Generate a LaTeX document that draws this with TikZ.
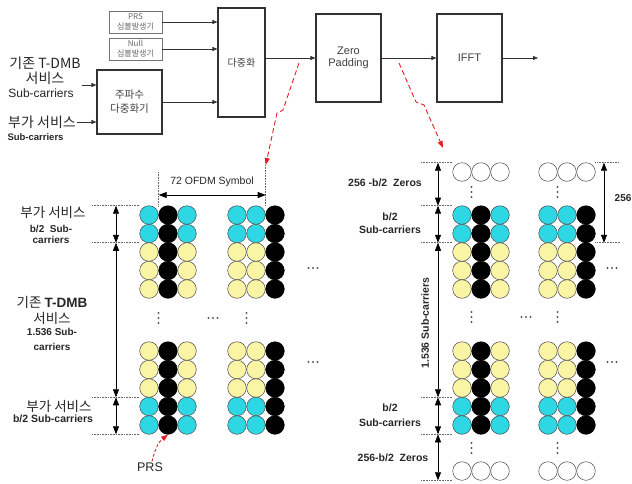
\documentclass[tikz,border=0pt]{standalone}
\usepackage{fontspec}
\setmainfont{Liberation Sans}
\newfontfamily\kr{Noto Sans CJK KR}
\usetikzlibrary{arrows.meta, positioning, calc}
\definecolor{clrCy}{RGB}{45,215,228}
\definecolor{clrYl}{RGB}{250,244,165}
\definecolor{clrRd}{RGB}{228,30,36}
\definecolor{clrLn}{RGB}{50,50,50}
\tikzset{
  blk/.style={rectangle, draw=clrLn, line width=1.1pt, fill=white, text=black!75,
    align=center, inner sep=1pt},
  gen/.style={rectangle, draw=black!55, line width=0.6pt, text=black!60,
    font=\fontsize{8}{10}\selectfont\kr, align=center, minimum width=53pt,
    minimum height=22pt, inner sep=0pt},
  arr/.style={-{Triangle[length=5pt,width=4pt]}, line width=0.8pt, color=clrLn},
  dimarr/.style={{Triangle[length=8pt,width=6pt]}-{Triangle[length=8pt,width=6pt]},
    line width=0.6pt, color=black},
  guide/.style={densely dotted, line width=0.6pt, color=black!60},
  redarr/.style={-{Triangle[length=7pt,width=5pt]}, dash pattern=on 5pt off 3pt,
    line width=0.9pt, color=clrRd},
  sc/.style={circle, draw=black!70, line width=0.5pt, minimum size=18.6pt, inner sep=0pt},
  krlbl/.style={font=\fontsize{14}{15}\selectfont\kr, text=black!85, inner sep=1pt, align=center},
  bfl/.style={font=\fontsize{10.5}{12}\selectfont\bfseries, text=black!85, inner sep=1pt,
    align=center},
  dotc/.style={fill=black!65},
}
\begin{document}
\begin{tikzpicture}[x=1pt, y=-1pt]
\useasboundingbox (0,0) rectangle (632,483);
% transmitter chain
\node[gen] (prsgen) at (135.5,22) {PRS\\심볼발생기};
\node[gen] (nullgen) at (135.5,49) {Null\\심볼발생기};
\node[blk, minimum width=65pt, minimum height=64pt, font=\fontsize{10.5}{14}\selectfont\kr] (freqmux) at (129.5,102) {주파수\\다중화기};
\node[blk, minimum width=47pt, minimum height=109pt, font=\fontsize{10}{12}\selectfont\kr] (mux) at (241.5,62.5) {다중화};
\node[blk, minimum width=65pt, minimum height=88pt, font=\fontsize{11}{12}\selectfont] (zeropad) at (348.5,58) {Zero\\Padding};
\node[blk, minimum width=65pt, minimum height=88pt, font=\fontsize{11}{12}\selectfont] (ifft) at (469.5,58) {IFFT};
\coordinate (out) at (538,58);
\draw[arr] (prsgen.east) -- (prsgen.east -| mux.west);
\draw[arr] (nullgen.east) -- (nullgen.east -| mux.west);
\draw[arr] (freqmux.east) -- (freqmux.east -| mux.west);
\draw[arr] (mux.east |- zeropad.west) -- (zeropad.west);
\draw[arr] (zeropad.east) -- (ifft.west);
\draw[arr] (ifft.east) -- (out);
% inputs
\node[krlbl] (tdmbin) at (45,70.5) {기존 T-DMB\\서비스};
\node[font=\fontsize{12}{14}\selectfont, text=black!85, inner sep=1pt] (tdmbsc) at (41,93) {Sub-carriers};
\coordinate (in1) at ([yshift=17pt]freqmux.west);
\draw[arr] (tdmbin.east |- in1) -- (in1);
\node[krlbl] (addin) at (42,122) {부가 서비스};
\draw[arr] (addin.east) -- (addin.east -| freqmux.west);
\node[bfl, font=\fontsize{9.5}{11}\selectfont\bfseries] (addinsc) at (35.5,137) {Sub-carriers};
% callouts
\coordinate (rs1) at (299,63); \coordinate (rt1) at (265.7,165);
\coordinate (rs2) at (399,63); \coordinate (rt2) at (443,148);
\draw[redarr] (rs1) -- (283,110) -- (277,113) -- (rt1);
\draw[redarr] (rs2) -- (416,102) -- (424,105) -- (rt2);
% sub-carrier grids
\foreach \gx in {149,462}{
  \foreach \ry/\fc [count=\r] in {215/clrCy, 233.5/clrCy, 252/clrYl, 270.5/clrYl, 289/clrYl,
      351/clrYl, 369.5/clrYl, 388/clrYl, 406.5/clrCy, 425/clrCy}{
    \node[sc, fill=\fc] (c\gx-\r-1) at (\gx,\ry) {};
    \node[sc, fill=black, draw=black] (c\gx-\r-2) at (\gx+19,\ry) {};
    \node[sc, fill=\fc] (c\gx-\r-3) at (\gx+38,\ry) {};
  }
}
\foreach \gx in {237,548}{
  \foreach \ry/\fc [count=\r] in {215/clrCy, 233.5/clrCy, 252/clrYl, 270.5/clrYl, 289/clrYl,
      351/clrYl, 369.5/clrYl, 388/clrYl, 406.5/clrCy, 425/clrCy}{
    \node[sc, fill=\fc] (c\gx-\r-1) at (\gx,\ry) {};
    \node[sc, fill=\fc] (c\gx-\r-2) at (\gx+19,\ry) {};
    \node[sc, fill=black, draw=black] (c\gx-\r-3) at (\gx+38,\ry) {};
  }
}
\foreach \gx in {462,548}{
  \foreach \ry [count=\r] in {172,471}{
    \foreach \k in {0,1,2}
      \node[sc, fill=white] (w\gx-\r-\k) at (\gx+19*\k,\ry) {};
  }
}
% continuation dots
\foreach \px/\py in {158.5/318, 246.5/318, 471.5/317, 557.5/317, 471.5/192, 557.5/192, 471.5/448, 557.5/448}
  \foreach \d in {-5,0,5} \fill[dotc] (\px,\py+\d) circle (1.2pt);
\foreach \px/\py in {213/318, 526/317, 313/268, 313/362, 612/268, 612/362}
  \foreach \d in {-4.5,0,4.5} \fill[dotc] (\px+\d,\py) circle (1.1pt);
% left dimensions
\foreach \n/\yy in {a/205.7, b/242.75, c/397.25, d/434.3}{
  \coordinate (L\n) at (116,\yy);
  \draw[guide] (92,\yy) -- (139.7,\yy);
}
\draw[dimarr] (La) -- (Lb);
\draw[dimarr] (Lb) -- (Lc);
\draw[dimarr] (Lc) -- (Ld);
\draw[guide] (158.7,172) -- (158.7,205.7);
\draw[guide] (265.7,165) -- (265.7,205.7);
\coordinate (oa) at (158.7,195); \coordinate (ob) at (265.7,195);
\draw[dimarr] (oa) -- (ob);
\node[font=\fontsize{10.5}{12}\selectfont, text=black!85, inner sep=1pt] (ofdm) at (212,182) {72 OFDM Symbol};
\node[krlbl, font=\fontsize{13.5}{15}\selectfont\kr] (addtop) at (53,212) {부가 서비스};
\node[bfl, font=\fontsize{10}{11}\selectfont\bfseries] (addtopsc) at (51,234.5) {b/2~~Sub-\\carriers};
\node[krlbl, font=\fontsize{13.5}{16}\selectfont\kr] (tdmbmid) at (52,310) {기존 {\rmfamily\bfseries T-DMB}\\서비스};
\node[bfl, font=\fontsize{10}{15}\selectfont\bfseries] (tdmbmidsc) at (52,339.5) {1.536 Sub-\\carriers};
\node[krlbl, font=\fontsize{13.5}{15}\selectfont\kr] (addbot) at (59,406) {부가 서비스};
\node[bfl] (addbotsc) at (53,419) {b/2 Sub-carriers};
\node[font=\fontsize{12.5}{14}\selectfont, text=black!85, inner sep=1pt] (prslbl) at (150,467) {PRS};
\draw[redarr, dash pattern=on 3pt off 2pt] ([xshift=2pt]prslbl.north) .. controls (156,445) and (160,441) .. (c149-10-2.south);
% right dimensions
\foreach \n/\yy in {a/162.7, b/205.7, c/242.75, d/397.25, e/434.3, f/480.3}{
  \coordinate (R\n) at (438,\yy);
  \draw[guide] (421,\yy) -- (452.7,\yy);
}
\draw[dimarr] (Ra) -- (Rb);
\draw[dimarr] (Rb) -- (Rc);
\draw[dimarr] (Rc) -- (Rd);
\draw[dimarr] (Rd) -- (Re);
\draw[dimarr] (Re) -- (Rf);
\coordinate (Sa) at (604,162.7); \coordinate (Sb) at (604,242.75);
\draw[guide] (595.3,162.7) -- (619,162.7);
\draw[guide] (595.3,242.75) -- (620,242.75);
\draw[dimarr] (Sa) -- (Sb);
\node[bfl, anchor=west, font=\fontsize{10}{12}\selectfont\bfseries] (n256) at (613.5,198) {256};
\node[bfl] (zeros1) at (385,183) {256 -b/2~~Zeros};
\node[bfl, font=\fontsize{10.5}{13}\selectfont\bfseries] (bsc1) at (390,223.5) {b/2\\Sub-carriers};
\node[bfl, rotate=90] (ssc) at (425,323) {1.536 Sub-carriers};
\node[bfl, font=\fontsize{10.5}{15}\selectfont\bfseries] (bsc2) at (390,415.5) {b/2\\Sub-carriers};
\node[bfl] (zeros2) at (393,458) {256-b/2~~Zeros};
\end{tikzpicture}
\end{document}
